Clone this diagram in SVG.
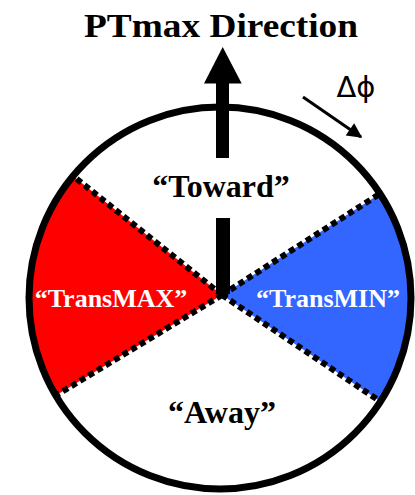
<svg xmlns="http://www.w3.org/2000/svg" width="415" height="495" viewBox="0 0 415 495">
<style>
.t{font-family:"Liberation Serif","Times New Roman",serif;font-weight:bold;text-anchor:middle}
.dot{stroke:#000;stroke-width:6;stroke-dasharray:6 4;fill:none}
</style>
<defs>
<marker id="ah" viewBox="0 0 10 10" refX="9" refY="5" markerWidth="5.5" markerHeight="5" orient="auto" markerUnits="strokeWidth">
<path d="M0,0 L10,5 L0,10 Z" fill="#000"/>
</marker>
</defs>
<rect width="415" height="495" fill="#fff"/>
<g id="transmax">
<path d="M222,295 L73,176 A191,191 0 0 0 55.8,395.5 Z" fill="#FF0000"/>
<text class="t" x="111" y="307" font-size="26" fill="#fff">“TransMAX”</text>
</g>
<g id="transmin">
<path d="M222,295 L380,193.7 A191,191 0 0 1 380.4,401.6 Z" fill="#3366FF"/>
<text class="t" x="328" y="307" font-size="26" fill="#fff">“TransMIN”</text>
</g>
<g id="toward">
<text class="t" x="221" y="197" font-size="32" fill="#000">“Toward”</text>
</g>
<g id="away">
<text class="t" x="222" y="423" font-size="32" fill="#000">“Away”</text>
</g>
<g id="connectors">
<line class="dot" x1="222" y1="295" x2="73" y2="176"/>
<line class="dot" x1="222" y1="295" x2="55.8" y2="395.5"/>
<line class="dot" x1="222" y1="295" x2="380" y2="193.7"/>
<line class="dot" x1="222" y1="295" x2="380.4" y2="401.6"/>
<rect x="216" y="218" width="14" height="76" fill="#000"/>
<rect x="216" y="80" width="13" height="78" fill="#000"/>
<path d="M222.7,47 L241.7,83.5 L204,83.5 Z" fill="#000"/>
<line x1="303" y1="97" x2="361" y2="137" stroke="#000" stroke-width="3" marker-end="url(#ah)"/>
</g>
<g id="circle">
<circle cx="220" cy="298" r="191" fill="none" stroke="#000" stroke-width="7"/>
</g>
<g id="title">
<text class="t" x="221" y="37" font-size="34" textLength="274" lengthAdjust="spacingAndGlyphs" fill="#000">PTmax Direction</text>
<text x="356" y="97" font-family="'DejaVu Sans','Liberation Sans',sans-serif" font-size="29" text-anchor="middle" fill="#000">Δϕ</text>
</g>
</svg>
